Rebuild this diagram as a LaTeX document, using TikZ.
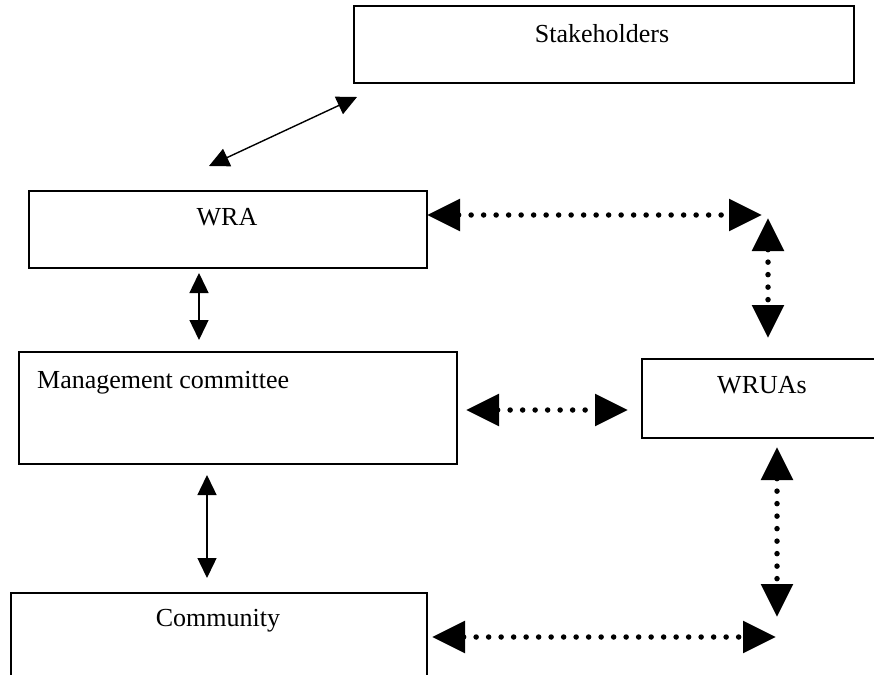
\documentclass[tikz,border=0pt]{standalone}
\usepackage{fontspec}
\setmainfont{Liberation Serif}
\usetikzlibrary{arrows.meta}
\begin{document}
\begin{tikzpicture}[x=1pt,y=-1pt,
  box/.style={draw, line width=1.6pt, inner sep=0pt, anchor=north west},
  lbl/.style={font=\fontsize{26}{30}\selectfont, inner sep=0pt},
  smallhead/.style={Triangle[length=20pt 0 0,width=19pt 0 0]},
  bighead/.style={Triangle[length=33pt 0 0,width=31pt 0 0]},
  solidarrow/.style={line width=1.4pt, {Triangle[length=20pt 0 0,width=19pt 0 0]}-{Triangle[length=20pt 0 0,width=19pt 0 0]}},
  dotarrow/.style={line width=5.5pt, dash pattern=on 0pt off 12.5pt, line cap=round,
    {Triangle[length=33pt 0 0,width=31pt 0 0]}-{Triangle[length=33pt 0 0,width=31pt 0 0]}}
]
\useasboundingbox (0,0) rectangle (874,674);
\clip (0,0) rectangle (874,674);

% boxes
\node[box, minimum width=500pt, minimum height=77pt] (stake) at (353,5) {};
\node[box, minimum width=398pt, minimum height=77pt] (wra) at (28,190) {};
\node[box, minimum width=438pt, minimum height=112pt] (mc) at (18,351) {};
\node[box, minimum width=250pt, minimum height=79pt] (wruas) at (641,358) {};
\node[box, minimum width=416pt, minimum height=100pt] (comm) at (10,592) {};

% labels
\node[lbl, anchor=base] (tstake) at (602,43) {Stakeholders};
\node[lbl, anchor=base] (twra) at (227,225) {WRA};
\node[lbl, anchor=base west] (tmc) at (37,388) {Management committee};
\node[lbl, anchor=base] (twruas) at (762,393) {WRUAs};
\node[lbl, anchor=base] (tcomm) at (218,626) {Community};

% connector end points
\coordinate (s1) at (357,97);
\coordinate (s2) at (209,166);
\coordinate (w1) at (199,273);
\coordinate (w2) at (199,340);
\coordinate (m1) at (207,475);
\coordinate (m2) at (207,578);
\coordinate (h1a) at (427,215);
\coordinate (h1b) at (762,215);
\coordinate (v1a) at (768,218);
\coordinate (v1b) at (768,338);
\coordinate (h2a) at (466,410);
\coordinate (h2b) at (628,410);
\coordinate (v2a) at (777,447);
\coordinate (v2b) at (777,617);
\coordinate (h3a) at (432,637);
\coordinate (h3b) at (776,637);

% solid connectors
\draw[solidarrow] (s1) -- (s2);
\draw[solidarrow] (w1) -- (w2);
\draw[solidarrow] (m1) -- (m2);

% dotted connectors
\draw[dotarrow] (h1a) -- (h1b);
\draw[dotarrow] (v1a) -- (v1b);
\draw[dotarrow] (h2a) -- (h2b);
\draw[dotarrow] (v2a) -- (v2b);
\draw[dotarrow] (h3a) -- (h3b);
\end{tikzpicture}
\end{document}
